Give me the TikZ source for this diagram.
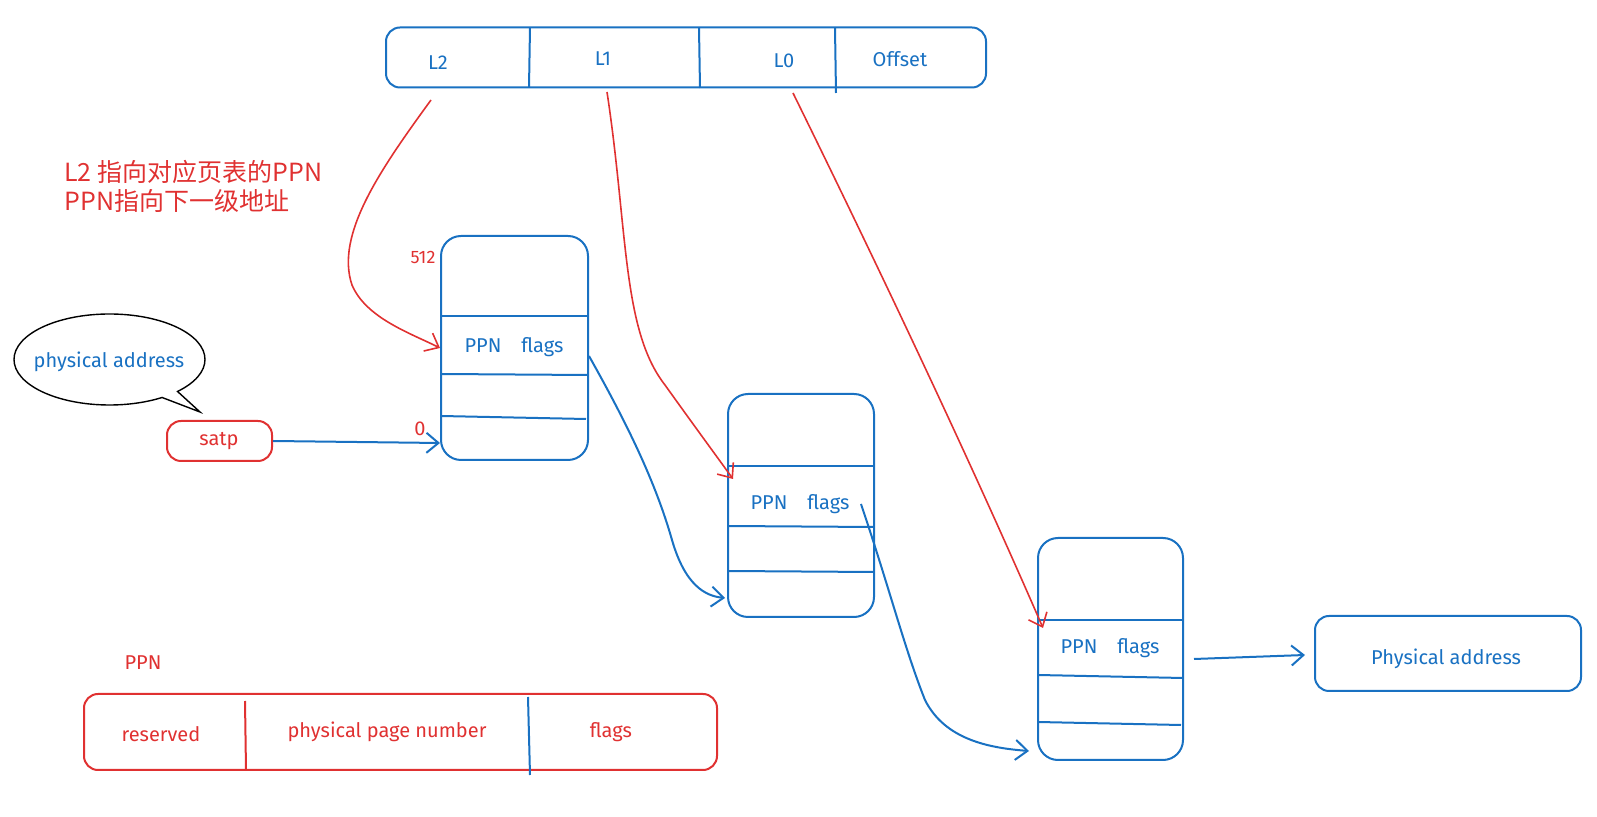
\documentclass[tikz,border=0pt]{standalone}
\usepackage{fontspec}
\setmainfont{Fira Sans}
\newfontfamily\cjk{Noto Sans CJK SC}
\usetikzlibrary{arrows.meta,shapes.callouts}
\definecolor{xblue}{HTML}{1971C2}
\definecolor{xred}{HTML}{E03131}
\tikzset{
  bbox/.style={draw=xblue, line width=1pt, rounded corners=7pt, inner sep=0pt},
  rbox/.style={draw=xred, line width=1pt, rounded corners=7pt, inner sep=0pt},
  tbl/.style={draw=xblue, line width=1pt, rounded corners=10pt, inner sep=0pt},
  btxt/.style={text=xblue, font=\fontsize{10}{12}\selectfont, inner sep=0pt},
  rtxt/.style={text=xred, font=\fontsize{10}{12}\selectfont, inner sep=0pt},
  bline/.style={draw=xblue, line width=1pt},
  rline/.style={draw=xred, line width=1pt},
  barrow/.style={draw=xblue, line width=1pt, -{Straight Barb[length=6pt,width=10pt]}},
  rarrow/.style={draw=xred, line width=0.8pt, -{Straight Barb[length=6pt,width=10pt]}},
}
\begin{document}
\begin{tikzpicture}[x=0.5pt,y=-0.5pt]
\useasboundingbox (0,0) rectangle (1597,817);

% top address box
\node[bbox, minimum width=300pt, minimum height=30pt] (va) at (686,57.5) {};
\draw[bline] (530,27.5) -- (529,87.5);
\draw[bline] (699,28) -- (700,88);
\draw[bline] (835,28) -- (836,93);
\node[btxt] (l2) at (438,63) {L2};
\node[btxt] (l1) at (603,59) {L1};
\node[btxt] (l0) at (784,61) {L0};
\node[btxt] (off) at (900,59) {Offset};

% red note
\node[text=xred, font=\cjk\fontsize{12.5}{14.5}\selectfont, anchor=north west, align=left, inner sep=0pt] (note) at (64,160) {L2 指向对应页表的PPN\\PPN指向下一级地址};

% table 1
\node[tbl, minimum width=73.5pt, minimum height=112pt] (t1) at (514.5,348) {};
\draw[bline] (441,316) -- (588,316);
\draw[bline] (441,374) -- (588,375);
\draw[bline] (441,416) -- (586,419);
\node[btxt] (t1e) at (514,347) {PPN\quad flags};
\node[rtxt, font=\fontsize{9}{11}\selectfont] (n512) at (423,258) {512};
\node[rtxt] (n0) at (420,429) {0};

% table 2
\node[tbl, minimum width=73pt, minimum height=111.5pt] (t2) at (801,505.5) {};
\draw[bline] (728,466) -- (874,466);
\draw[bline] (728,526) -- (874,527);
\draw[bline] (728,571) -- (874,572);
\node[btxt] (t2e) at (800,504) {PPN\quad flags};

% table 3
\node[tbl, minimum width=72.5pt, minimum height=111pt] (t3) at (1110.5,649) {};
\draw[bline] (1038,620) -- (1183,620);
\draw[bline] (1038,675) -- (1183,678);
\draw[bline] (1038,722) -- (1181,725);
\node[btxt] (t3e) at (1110,648) {PPN\quad flags};

% physical address
\node[bbox, minimum width=133pt, minimum height=37.5pt] (pa) at (1448,653.5) {};
\node[btxt] (pat) at (1446,659) {Physical address};

% bubble and satp
\node[ellipse callout, draw=black, line width=0.7pt, minimum width=95.5pt, minimum height=45.5pt,
      callout absolute pointer={(200,412)}, callout pointer arc=12] (bub) at (109.5,359.5) {};
\node[btxt] (bubt) at (109,362) {physical address};
\node[rbox, minimum width=52.5pt, minimum height=20pt] (satp) at (219.5,441) {};
\node[rtxt] (satpt) at (219,441) {satp};

% PPN format
\node[rtxt] (ppnl) at (143,663) {PPN};
\node[rbox, minimum width=316.5pt, minimum height=38pt] (fmt) at (400.5,732) {};
\draw[rline] (245,701) -- (246,770);
\draw[bline] (528,697) -- (530,775);
\node[rtxt] (res) at (161,734) {reserved};
\node[rtxt] (ppnum) at (387,732) {physical page number};
\node[rtxt] (flg) at (611,732) {flags};

% coordinates for connectors
\coordinate (a1s) at (431,100);
\coordinate (a1e) at (440,348);
\coordinate (a2s) at (607,92);
\coordinate (a2e) at (733,479);
\coordinate (a3s) at (793,93);
\coordinate (a3e) at (1043,628);
\coordinate (b1s) at (589,356);
\coordinate (b1e) at (725,598);
\coordinate (b2s) at (861,504);
\coordinate (b2e) at (1029,751);
\coordinate (ss) at (273,441);
\coordinate (se) at (440,443);
\coordinate (ps) at (1194,659);
\coordinate (pe) at (1305,655);

% red arrows
\draw[rarrow] (a1s) .. controls (380,170) and (335,235) .. (352,285)
                   .. controls (366,318) and (410,333) .. (a1e);
\draw[rarrow] (a2s) .. controls (628,230) and (622,330) .. (665,385)
                   .. controls (690,420) and (712,450) .. (a2e);
\draw[rarrow] (a3s) .. controls (880,270) and (970,460) .. (a3e);

% blue arrows
\draw[barrow] (ss) -- (se);
\draw[barrow] (b1s) .. controls (625,420) and (655,480) .. (672,540)
                   .. controls (685,585) and (705,596) .. (b1e);
\draw[barrow] (b2s) .. controls (890,590) and (905,650) .. (925,700)
                   .. controls (945,740) and (990,748) .. (b2e);
\draw[barrow] (ps) -- (pe);
\end{tikzpicture}
\end{document}
